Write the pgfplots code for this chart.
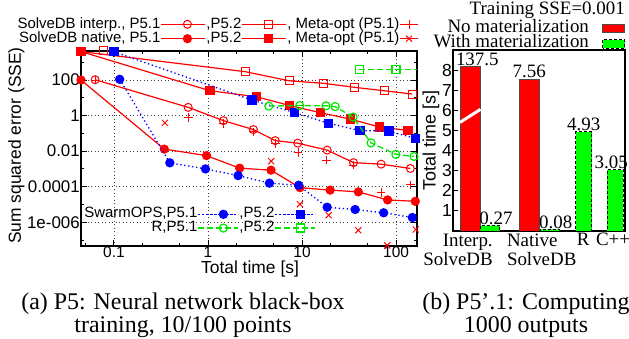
\documentclass[border=0pt]{standalone}
\usepackage{fontspec}
\setmainfont{Liberation Serif}
\setsansfont{Liberation Sans}
\newfontfamily\gsans{Liberation Sans}
\usepackage{pgfplots}
\pgfplotsset{compat=1.18}
\definecolor{gred}{RGB}{255,0,0}
\definecolor{gblue}{RGB}{0,0,255}
\definecolor{ggreen}{RGB}{0,230,0}
\definecolor{bgreen}{RGB}{0,255,0}
\newcommand{\lsans}[1]{\gsans\fontsize{#1}{#1}\selectfont}
\newcommand{\lserif}[1]{\rmfamily\fontsize{#1}{#1}\selectfont}
\pgfplotsset{
  mybarlegend/.style={legend image code/.code={\draw[##1] (0bp,-4.3bp) rectangle (22bp,4.3bp);}},
  marklegend/.style={legend image code/.code={\path (0bp,0bp) -- (18bp,0bp); \draw[##1] plot coordinates {(9bp,0bp)};}},
}
\begin{document}
\begin{tikzpicture}
\path[use as bounding box] (0bp,0bp) rectangle (629bp,339bp);
% ---------------- left plot ----------------
\begin{axis}[
  at={(81bp,93bp)}, anchor=south west,
  width=336bp, height=195bp, scale only axis,
  xmode=log, ymode=log,
  xmin=0.0446, xmax=167, ymin=4.6e-8, ymax=4300,
  clip mode=individual,
  axis line style={line width=2bp},
  xtick={0.1,1,10,100}, xticklabels={0.1,1,10,100},
  minor xtick={0.05,0.2,0.5,2,5,20,50},
  ytick={1e-6,1e-4,1e-2,1,100}, yticklabels={1e-006,0.0001,0.01,1,100},
  minor ytick={1e-7,1e-5,1e-3,0.1,10,1000},
  grid=major, major grid style={dash pattern=on 1bp off 2.5bp, black!75, line width=0.9bp},
  tick style={black, line width=1bp},
  major tick length=6bp, minor tick length=3.5bp,
  yticklabel style={font=\lsans{17}, inner sep=1bp},
  xticklabel style={font=\lsans{15.5}, inner sep=1bp},
  xlabel={Total time [s]}, ylabel={Sum squared error (SSE)},
  label style={font=\lsans{17.5}},
  xlabel style={at={(axis description cs:0.503,-0.12)}, anchor=center},
  ylabel style={at={(axis description cs:-0.192,0.515)}, anchor=center},
  legend image code/.code={\path (0bp,0bp) -- (44bp,0bp); \draw[mark repeat=2,mark phase=2,#1] plot coordinates {(9bp,0bp)(26bp,0bp)(43bp,0bp)};},
  legend columns=3, legend plot pos=right, legend cell align=right,
  legend style={at={(-0.19,1.174)}, anchor=north west, draw=none, fill=none,
    font=\lsans{15}, inner sep=0pt, outer sep=0pt, column sep=0bp, row sep=0pt,
    nodes={inner sep=0.4bp, text height=10.8bp, text depth=2.8bp}},
]
\addplot[gred, line width=1.2bp, mark=o, mark size=4bp, mark options={line width=1bp}]
  coordinates {(0.063,104)(0.616,2.9)(1.46,0.52)(3.04,0.163)(5.19,0.039)(9.0,0.028)(18.5,0.0114)(35.3,0.00225)(69.3,0.00185)(142,0.00106)};
\addlegendentry{SolveDB interp., P5.1}
\addplot[gred, line width=1.2bp, mark=square, mark size=4bp, mark options={line width=1bp}]
  coordinates {(0.0446,4000)(2.5,294)(7.3,91)(17.1,65)(36,39)(74.5,25)(149,16.3)};
\addlegendentry{,P5.2}
\addplot[gred, only marks, mark=+, mark size=4.3bp, mark options={line width=1bp}, marklegend]
  coordinates {(0.063,100)(0.616,0.77)(1.45,0.363)(3.04,0.122)(5.19,0.027)(9.1,0.0082)(18.1,0.0031)(35,0.00163)(69.3,4.6e-5)(142,1.26e-4)};
\addlegendentry{, Meta-opt (P5.1)}
\addplot[gred, line width=1.2bp, mark=*, mark size=4bp]
  coordinates {(0.0446,100)(0.343,0.013)(0.965,0.0056)(2.17,0.0011)(4.68,8.5e-4)(9.5,8.8e-5)(19.9,6.4e-5)(39.7,5.1e-5)(81.3,1.8e-5)(160,1.5e-5)};
\addlegendentry{SolveDB native, P5.1}
\addplot[gred, line width=1.2bp, mark=square*, mark size=4bp]
  coordinates {(0.0446,4000)(1.05,25)(3.3,11.4)(7.4,3.66)(15.8,1.44)(32.6,0.635)(67.3,0.225)(134,0.147)};
\addlegendentry{,P5.2}
\addplot[gred, only marks, mark=x, mark size=4.3bp, mark options={line width=1bp}, marklegend]
  coordinates {(0.0446,100)(0.348,0.39)(4.7,0.0027)(9.5,1.03e-5)(19.2,2.5e-6)(39.7,3.5e-7)(80.7,5e-8)(162,3.9e-7)};
\addlegendentry{, Meta-opt (P5.1)}
\addplot[gred, only marks, mark=square, mark size=4bp, mark options={line width=1bp}, forget plot]
  coordinates {(0.078,4300)};
\end{axis}
% overlay axis for SwarmOPS and R
\begin{axis}[
  at={(81bp,93bp)}, anchor=south west,
  width=336bp, height=195bp, scale only axis,
  xmode=log, ymode=log,
  xmin=0.0446, xmax=167, ymin=4.6e-8, ymax=4300,
  clip mode=individual,
  hide axis,
  legend image code/.code={\path (0bp,0bp) -- (40bp,0bp); \draw[mark repeat=2,mark phase=2,#1] plot coordinates {(9bp,0bp)(25bp,0bp)(38bp,0bp)};},
  legend columns=2, legend plot pos=right, legend cell align=right,
  legend style={at={(0.009,0.198)}, anchor=north west, draw=none, fill=none,
    font=\lsans{15}, inner sep=0pt, outer sep=0pt, column sep=0bp, row sep=0pt,
    nodes={inner sep=0.4bp, text height=10.2bp, text depth=2.8bp}},
]
\addplot[gblue, line width=1.3bp, dash pattern=on 1.3bp off 2.7bp, mark=*, mark size=4bp, mark options={solid}]
  coordinates {(0.115,110)(0.393,0.0022)(0.94,0.001)(2.09,4.2e-4)(4.5,1.58e-4)(9.2,1.2e-4)(18.5,7e-6)(36.7,5.2e-6)(73.8,3.4e-6)(149,1.84e-6)};
\addlegendentry{SwarmOPS,P5.1}
\addplot[gblue, line width=1.3bp, dash pattern=on 1.3bp off 2.7bp, mark=square*, mark size=4bp, mark options={solid}]
  coordinates {(0.1,3900)(2.93,7.47)(8.3,1.48)(19.2,0.363)(41.4,0.143)(84,0.134)(162,0.051)};
\addlegendentry{,P5.2}
\addplot[ggreen, line width=1.3bp, dash pattern=on 6bp off 3bp, mark=o, mark size=4bp, mark options={solid, line width=1.2bp}]
  coordinates {(4.43,3.43)(9.45,3.66)(18,3.56)(22.5,3.2)(34.9,0.82)(54.2,0.029)(99.5,0.0066)(155,0.005)};
\addlegendentry{R,P5.1}
\addplot[ggreen, line width=1.3bp, dash pattern=on 6bp off 3bp, mark=square, mark size=4bp, mark options={solid, line width=1.2bp}]
  coordinates {(40.7,401)(100,401)};
\addlegendentry{,P5.2}
\addplot[ggreen, line width=1.3bp, dash pattern=on 6bp off 3bp, forget plot]
  coordinates {(100,401)(167,401)};
\end{axis}
% ---------------- right plot ----------------
\begin{axis}[
  at={(453bp,108bp)}, anchor=south west, width=172bp, height=181bp, scale only axis,
  xmin=0, xmax=172, ymin=0, ymax=9,
  axis line style={line width=2bp},
  ytick={1,2,3,4,5,6,7,8}, ytick pos=left, major tick length=5bp,
  tick style={black, line width=1bp},
  yticklabel style={font=\lsans{17.5}, inner sep=1bp},
  /pgf/number format/assume math mode=true,
  xtick={5,88.7,130.3,160},
  xticklabels={{\begin{tabular}{@{}r@{}}Interp.\\SolveDB\end{tabular}},{\begin{tabular}{@{}l@{}}Native\\SolveDB\end{tabular}},R,C++},
  x tick label style={font=\lserif{19}, inner sep=1bp, anchor=north, yshift=-1bp},
  xtick style={draw=none},
  ylabel={Total time [s]},
  ylabel style={font=\lsans{18}, at={(axis description cs:-0.128,0.5)}, anchor=center},
  legend plot pos=right, legend cell align=right,
  legend style={at={(1.0,1.162)}, anchor=north east, draw=none, fill=none,
    font=\lserif{19}, inner sep=0pt, outer sep=0pt, column sep=13bp, row sep=0pt,
    nodes={inner sep=0.3bp, text height=11.3bp, text depth=3.7bp}},
]
\addplot[ybar, bar shift=0pt, bar width=19.5, fill=gred, draw=black!70, line width=0.6bp,
  point meta=explicit symbolic, nodes near coords,
  nodes near coords style={font=\lserif{19}, anchor=south, inner sep=0.5bp, xshift=7bp, black},
  mybarlegend]
  coordinates {(17.3,8.18) [137.5]};
\addlegendentry{No materialization}
\addplot[ybar, bar shift=0pt, bar width=19.5, fill=gred, draw=black!70, line width=0.6bp,
  point meta=explicit symbolic, nodes near coords,
  nodes near coords style={font=\lserif{19}, anchor=south, inner sep=0.5bp, black}, forget plot]
  coordinates {(76.2,7.56) [7.56]};
\addplot[ybar, bar shift=0pt, bar width=19.5, fill=bgreen, draw=black, dash pattern=on 3bp off 2bp, line width=0.8bp,
  point meta=explicit symbolic, nodes near coords,
  nodes near coords style={font=\lserif{19}, anchor=south, inner sep=0.5bp, xshift=6bp, black, solid},
  mybarlegend]
  coordinates {(37,0.27) [0.27] (96.7,0.08) [0.08]};
\addlegendentry{With materialization}
\addplot[ybar, bar shift=0pt, bar width=16, fill=bgreen, draw=black, dash pattern=on 3bp off 2bp, line width=0.8bp,
  point meta=explicit symbolic, nodes near coords,
  nodes near coords style={font=\lserif{19}, anchor=south, inner sep=0.5bp, black, solid}, forget plot]
  coordinates {(130.7,4.93) [4.93]};
\addplot[ybar, bar shift=0pt, bar width=16, fill=bgreen, draw=black, dash pattern=on 3bp off 2bp, line width=0.8bp,
  point meta=explicit symbolic, nodes near coords,
  nodes near coords style={font=\lserif{19}, anchor=south, inner sep=0.5bp, xshift=-4bp, black, solid}, forget plot]
  coordinates {(162.3,3.05) [3.05]};
\draw[white, line width=3bp] (axis cs:7,5.4) -- (axis cs:27.5,6.05);
\end{axis}
\node[font=\lserif{19}, anchor=base east, inner sep=0pt] at (625bp,324bp) {Training SSE=0.001};
% captions
\node[font=\lserif{24}, anchor=base, inner sep=0pt] at (183bp,30bp) {(a) P5: Neural network black-box};
\node[font=\lserif{24}, anchor=base, inner sep=0pt] at (183bp,7bp) {training, 10/100 points};
\node[font=\lserif{24}, anchor=base, inner sep=0pt] at (526bp,30bp) {(b) P5'.1: Computing};
\node[font=\lserif{24}, anchor=base, inner sep=0pt] at (526bp,7bp) {1000 outputs};
\end{tikzpicture}
\end{document}
